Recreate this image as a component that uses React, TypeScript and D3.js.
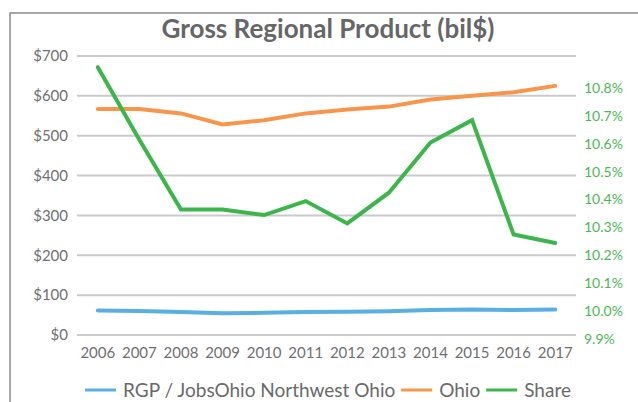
import React, { useEffect, useRef } from 'react';
import * as d3 from 'd3';

const years = ['2006', '2007', '2008', '2009', '2010', '2011', '2012', '2013', '2014', '2015', '2016', '2017'];
const nwOhio = [61.6, 60.1, 57.5, 54.6, 55.6, 57.6, 58.2, 59.6, 62.6, 64.0, 62.5, 63.9];
const ohio = [567, 567, 556, 528, 539, 556, 566, 573, 591, 600, 609, 625];
const share = [10.86, 10.6, 10.35, 10.35, 10.33, 10.38, 10.3, 10.41, 10.59, 10.67, 10.26, 10.23];
const leftTicks = [0, 100, 200, 300, 400, 500, 600, 700];
const rightTicks = [9.9, 10.0, 10.1, 10.2, 10.3, 10.4, 10.5, 10.6, 10.7, 10.8];
const legendNames = ['RGP / JobsOhio Northwest Ohio', 'Ohio', 'Share'];

const BLUE = '#5aafe2';
const ORANGE = '#f7964a';
const GREEN = '#3cb54a';
const FONT = 'Lato, sans-serif';

const App = () => {
  const svgRef = useRef<SVGSVGElement | null>(null);

  useEffect(() => {
    document.body.style.margin = '0';
    const width = 638;
    const height = 402;
    const margin = { top: 56, right: 62, bottom: 67, left: 77 };
    const innerW = width - margin.left - margin.right;
    const innerH = height - margin.top - margin.bottom;

    const svgEl = d3.select(svgRef.current);
    svgEl.selectAll('*').remove();
    svgEl.attr('width', width).attr('height', height).style('background', '#fff');

    // outer frame (runs off the right and bottom edges)
    svgEl.append('rect')
      .attr('x', 10).attr('y', 13)
      .attr('width', 700).attr('height', 500)
      .attr('fill', 'none')
      .attr('stroke', '#8a8a8a')
      .attr('stroke-width', 1.5);

    svgEl.append('text')
      .attr('x', 328).attr('y', 38)
      .attr('text-anchor', 'middle')
      .style('font-family', FONT)
      .style('font-weight', 700)
      .style('font-size', '26px')
      .attr('fill', '#666')
      .text('Gross Regional Product (bil$)');

    const svg = svgEl.append('g').attr('transform', `translate(${margin.left},${margin.top})`);

    const x = d3.scaleBand().domain(years).range([0, innerW]);
    const y = d3.scaleLinear().domain([0, 700]).range([innerH, 0]);
    const y2 = d3.scaleLinear().domain([9.9, 10.9]).range([innerH, 0]);

    // gridlines
    svg.append('g')
      .selectAll('line')
      .data(leftTicks)
      .join('line')
      .attr('x1', 0).attr('x2', innerW)
      .attr('y1', d => y(d)).attr('y2', d => y(d))
      .attr('stroke', '#cacaca')
      .attr('stroke-width', 2);

    svg.append('g')
      .selectAll('text')
      .data(leftTicks)
      .join('text')
      .attr('x', -9).attr('y', d => y(d))
      .attr('dy', '0.35em')
      .attr('text-anchor', 'end')
      .style('font-family', FONT)
      .style('font-size', '15px')
      .attr('fill', '#707070')
      .text(d => `$${d}`);

    svg.append('g')
      .selectAll('text')
      .data(rightTicks)
      .join('text')
      .attr('x', innerW + 8).attr('y', d => y2(d) + 4)
      .attr('dy', '0.35em')
      .style('font-family', FONT)
      .style('font-size', '14px')
      .attr('fill', '#4cb852')
      .text(d => `${d.toFixed(1)}%`);

    svg.append('g')
      .selectAll('text')
      .data(years)
      .join('text')
      .attr('x', d => (x(d) ?? 0) + x.bandwidth() / 2)
      .attr('y', innerH + 18)
      .attr('dy', '0.35em')
      .attr('text-anchor', 'middle')
      .style('font-family', FONT)
      .style('font-size', '15px')
      .attr('fill', '#707070')
      .text(d => d);

    const cx = (i: number) => (x(years[i]) ?? 0) + x.bandwidth() / 2;

    const leftLine = d3.line<number>().x((_, i) => cx(i)).y(d => y(d));
    const rightLine = d3.line<number>().x((_, i) => cx(i)).y(d => y2(d));

    svg.append('path')
      .datum(nwOhio)
      .attr('fill', 'none')
      .attr('stroke', BLUE)
      .attr('stroke-width', 4)
      .attr('stroke-linecap', 'round')
      .attr('d', leftLine);

    svg.append('path')
      .datum(ohio)
      .attr('fill', 'none')
      .attr('stroke', ORANGE)
      .attr('stroke-width', 4)
      .attr('stroke-linecap', 'round')
      .attr('d', leftLine);

    svg.append('path')
      .datum(share)
      .attr('fill', 'none')
      .attr('stroke', GREEN)
      .attr('stroke-width', 4)
      .attr('stroke-linecap', 'round')
      .attr('d', rightLine);

    // legend
    const colors = [BLUE, ORANGE, GREEN];
    const legend = svgEl.append('g').attr('transform', 'translate(0,390)');
    let lx = 85;
    legendNames.forEach((name, i) => {
      legend.append('line')
        .attr('x1', lx).attr('x2', lx + 31)
        .attr('y1', 0).attr('y2', 0)
        .attr('stroke', colors[i])
        .attr('stroke-width', 3);
      const t = legend.append('text')
        .attr('x', lx + 38).attr('y', 0)
        .attr('dy', '0.35em')
        .style('font-family', FONT)
        .style('font-size', '19px')
        .attr('fill', '#6a6a6a')
        .text(name);
      const w = (t.node() as SVGTextElement).getComputedTextLength();
      lx += 38 + w + 6;
    });
  }, []);

  return <svg ref={svgRef}></svg>;
};

export default App;
